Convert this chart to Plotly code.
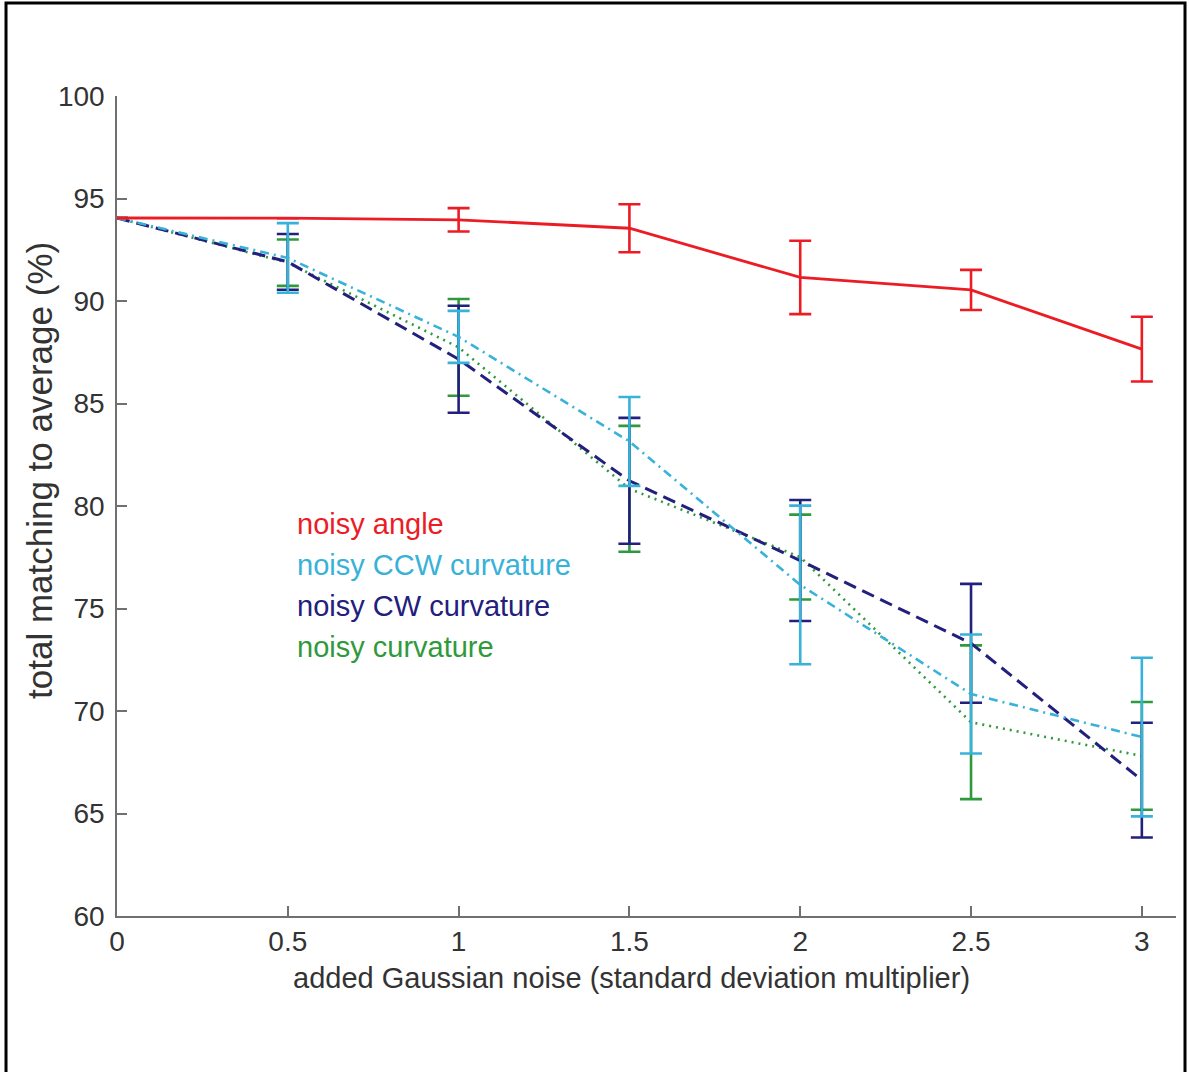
import plotly.graph_objects as go

# noise level (standard deviation multiplier)
noise = [0, 0.5, 1, 1.5, 2, 2.5, 3]

# mean total matching to average (%) and error half-widths per condition
angle_mean = [94.05, 94.04, 93.96, 93.55, 91.15, 90.54, 87.65]
angle_err = [None, None, 0.57, 1.17, 1.79, 0.98, 1.58]

ccw_mean = [94.05, 92.10, 88.25, 83.15, 76.15, 70.83, 68.73]
ccw_err = [None, 1.70, 1.27, 2.17, 3.87, 2.90, 3.87]

cw_mean = [94.05, 91.91, 87.16, 81.23, 77.34, 73.30, 66.63]
cw_err = [None, 1.36, 2.61, 3.07, 2.95, 2.90, 2.80]

curv_mean = [94.05, 91.87, 87.74, 80.84, 77.51, 69.45, 67.81]
curv_err = [None, 1.13, 2.36, 3.07, 2.07, 3.75, 2.63]

series_names = ["noisy angle", "noisy CCW curvature", "noisy CW curvature", "noisy curvature"]

x_ticks = [0, 0.5, 1, 1.5, 2, 2.5, 3]
x_tick_text = ["0", "0.5", "1", "1.5", "2", "2.5", "3"]
y_ticks = [60, 65, 70, 75, 80, 85, 90, 95, 100]

RED = "#ec1c24"
CYAN = "#38b2d8"
NAVY = "#22207c"
GREEN = "#2f9a3c"

FONT = "Liberation Sans, Arial, sans-serif"
TEXT = "#333333"
AXIS = "#707070"

fig = go.Figure()


def add_series(y, err, color, dash, width, name):
    fig.add_trace(go.Scatter(
        x=noise, y=y, mode="lines", name=name,
        line=dict(color=color, width=width, dash=dash),
        error_y=dict(type="data", array=err, visible=True,
                     color=color, thickness=2.6, width=11),
        showlegend=False,
    ))


# drawn back to front
add_series(curv_mean, curv_err, GREEN, "2px,5px", 2.6, series_names[3])
add_series(cw_mean, cw_err, NAVY, "13px,7px", 3, series_names[2])
add_series(ccw_mean, ccw_err, CYAN, "9px,5px,2px,5px", 2.6, series_names[1])
add_series(angle_mean, angle_err, RED, "solid", 2.8, series_names[0])

# in-plot legend text
legend_colors = [RED, CYAN, NAVY, GREEN]
legend_y = [79.12, 77.12, 75.12, 73.12]
for name, col, ly in zip(series_names, legend_colors, legend_y):
    fig.add_annotation(
        x=0.52, y=ly, xref="x", yref="y", text=name, showarrow=False,
        xanchor="left", yanchor="middle",
        font=dict(family=FONT, size=29, color=col),
    )

# axis titles
fig.add_annotation(
    x=0.4854, y=-0.0756, xref="paper", yref="paper",
    text="added Gaussian noise (standard deviation multiplier)",
    showarrow=False, xanchor="center", yanchor="middle",
    font=dict(family=FONT, size=29, color=TEXT),
)
fig.add_annotation(
    x=-0.0727, y=0.5427, xref="paper", yref="paper",
    text="total matching to average (%)", textangle=-90,
    showarrow=False, xanchor="center", yanchor="middle",
    font=dict(family=FONT, size=35, color=TEXT),
)

# outer frame
fig.add_shape(
    type="rect", xref="paper", yref="paper",
    x0=-0.1048, x1=1.0085, y0=-0.25, y1=1.1134,
    line=dict(color="black", width=3), fillcolor="rgba(0,0,0,0)",
)

fig.update_layout(
    width=1189, height=1072,
    margin=dict(l=117, r=13, t=96, b=156),
    paper_bgcolor="white", plot_bgcolor="white",
    font=dict(family=FONT, size=28, color=TEXT),
    xaxis=dict(
        range=[0, 3.1], tickvals=x_ticks, ticktext=x_tick_text,
        ticks="inside", ticklen=10, tickwidth=1.5, tickcolor=AXIS,
        showline=True, linecolor=AXIS, linewidth=1.5,
        showgrid=False, zeroline=False, ticklabelstandoff=0,
        tickfont=dict(family=FONT, size=28, color=TEXT),
    ),
    yaxis=dict(
        range=[60, 100], tickvals=y_ticks,
        ticks="inside", ticklen=10, tickwidth=1.5, tickcolor=AXIS,
        showline=True, linecolor=AXIS, linewidth=1.5,
        showgrid=False, zeroline=False, ticklabelstandoff=5,
        tickfont=dict(family=FONT, size=28, color=TEXT),
    ),
)

fig.write_html("out.html")
